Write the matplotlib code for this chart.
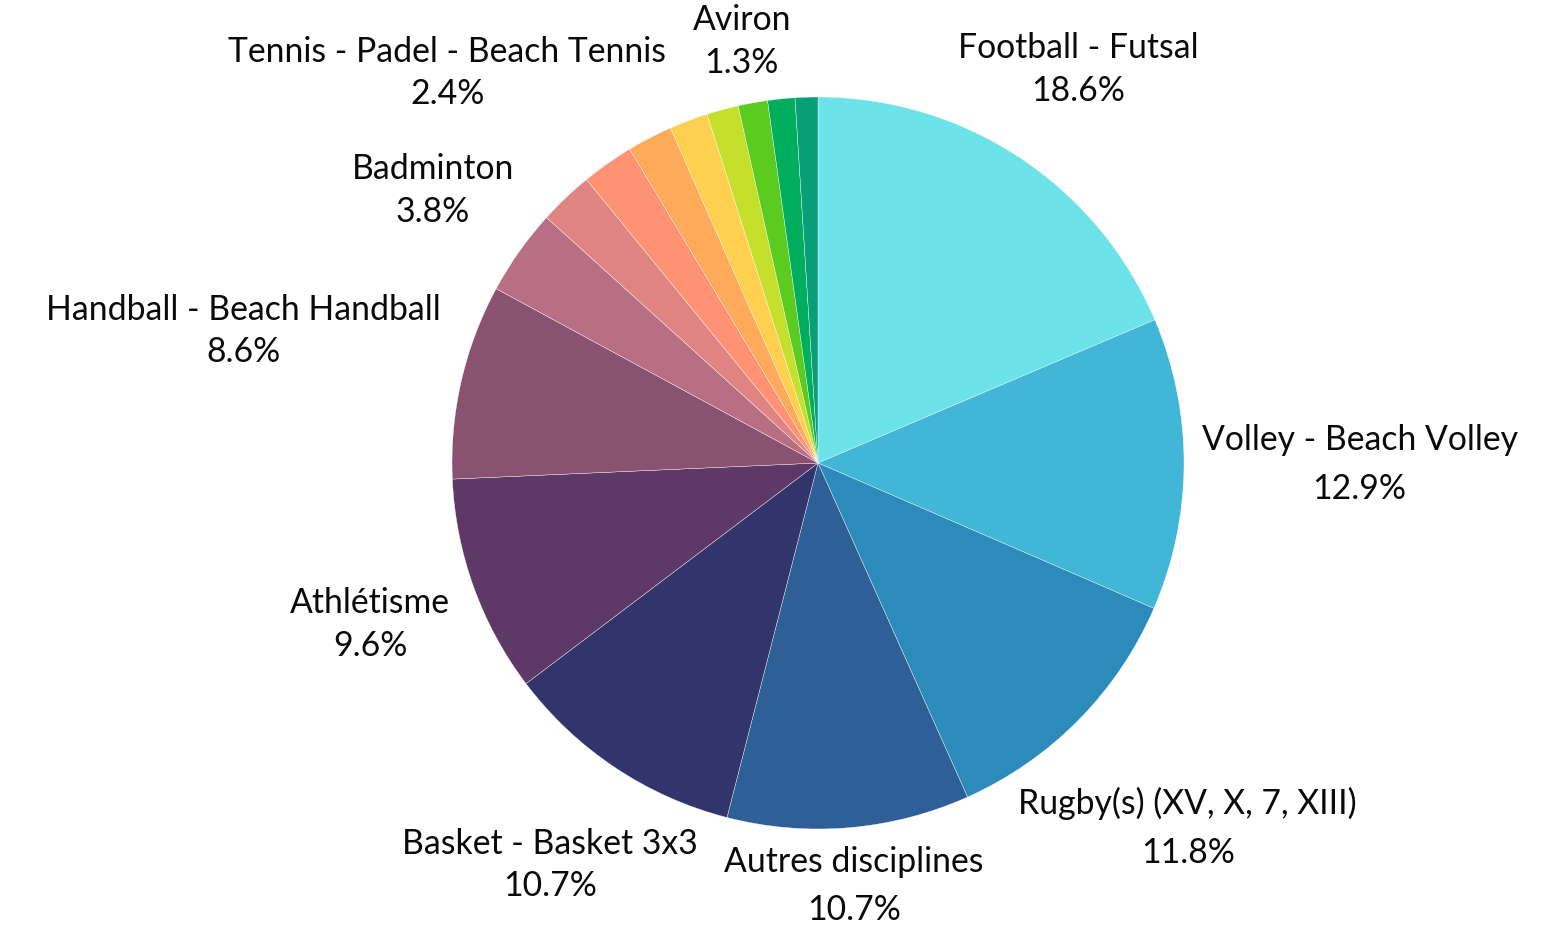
import matplotlib
matplotlib.use("Agg")
import matplotlib.pyplot as plt
import numpy as np

labels = ["Football - Futsal", "Volley - Beach Volley", "Rugby(s) (XV, X, 7, XIII)",
          "Autres disciplines", "Basket - Basket 3x3", "Athlétisme",
          "Handball - Beach Handball", "Badminton", "Tennis - Padel - Beach Tennis",
          "", "", "", "", "Aviron", "", ""]
values = [18.6, 12.9, 11.8, 10.7, 10.7, 9.6, 8.6, 3.8, 2.4, 2.3, 2.0, 1.7, 1.4, 1.3, 1.2, 1.0]
colors = ["#6be3e8", "#41b6d6", "#2d8bbb", "#2e5f97", "#31356b", "#5e3866",
          "#8a5271", "#b86f83", "#e08383", "#ff9273", "#ffa95b", "#ffd04f",
          "#c5df2d", "#5bcb1f", "#00ae5e", "#079e78"]
# label radial distance (in radii) and line spacing, per slice
label_dist = [1.29, 1.48, 1.42, 1.16, 1.32, 1.30, 1.61, 1.29, 1.47, 0, 0, 0, 0, 1.17, 0, 0]
line_sp = [1.41, 1.64, 1.64, 1.64, 1.41, 1.41, 1.41, 1.41, 1.41, 1, 1, 1, 1, 1.43, 1, 1]

plt.rcParams['font.family'] = ['Lato', 'DejaVu Sans']

W, H = 1560, 926
fig = plt.figure(figsize=(W / 100, H / 100), dpi=100)
cx, cy, R = 818, 463, 366
ax = fig.add_axes([(cx - R) / W, (H - cy - R) / H, 2 * R / W, 2 * R / H])

wedges, _ = ax.pie(values, colors=colors, startangle=90, counterclock=False,
                   wedgeprops=dict(edgecolor="white", linewidth=0.25))
ax.set_xlim(-1, 1)
ax.set_ylim(-1, 1)
ax.set_aspect("equal")
ax.axis("off")

total = sum(values)
cum = 0.0
for lab, v, d, ls in zip(labels, values, label_dist, line_sp):
    mid = (cum + v / 2) / total * 2 * np.pi
    cum += v
    if not lab:
        continue
    x = d * np.sin(mid)
    y = d * np.cos(mid)
    ax.text(x, y, f"{lab}\n{v:.1f}%", ha="center", va="center",
            fontsize=24.3, color="#0a0a0a", linespacing=ls, multialignment="center")

fig.savefig("out.png", dpi=100)
